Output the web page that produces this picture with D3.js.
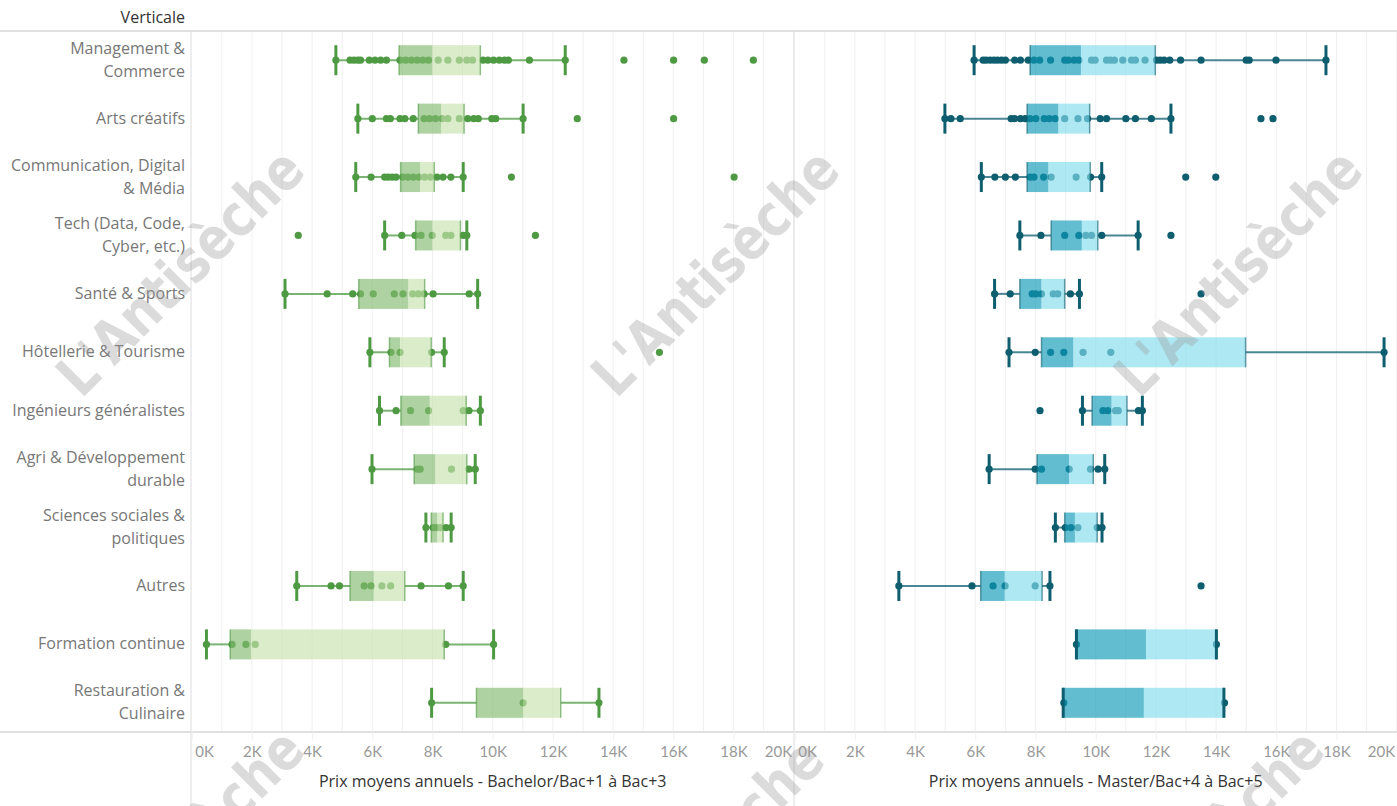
<!DOCTYPE html>
<html>
<head>
<meta charset="utf-8">
<script src="https://cdn.jsdelivr.net/npm/d3@7"></script>
<style>
    body { margin: 0; background: #fff; }
    svg { display: block; font-family: "Open Sans", Lato, sans-serif; }
</style>
</head>
<body>
<div id="chart"></div>
<script>
// categories (rows), with their label lines
const categories = [
    "Management & Commerce", "Arts créatifs", "Communication, Digital & Média",
    "Tech (Data, Code, Cyber, etc.)", "Santé & Sports", "Hôtellerie & Tourisme",
    "Ingénieurs généralistes", "Agri & Développement durable", "Sciences sociales & politiques",
    "Autres", "Formation continue", "Restauration & Culinaire"
];
const categoryLines = [
    ["Management &", "Commerce"], ["Arts créatifs"], ["Communication, Digital", "& Média"],
    ["Tech (Data, Code,", "Cyber, etc.)"], ["Santé & Sports"], ["Hôtellerie & Tourisme"],
    ["Ingénieurs généralistes"], ["Agri & Développement", "durable"], ["Sciences sociales &", "politiques"],
    ["Autres"], ["Formation continue"], ["Restauration &", "Culinaire"]
];

// box stats in K€ : [whisker low, Q1, median, Q3, whisker high]
const bachelorStats = [
    [4.79, 6.89, 8.00, 9.59, 12.41],
    [5.52, 7.53, 8.29, 9.05, 11.01],
    [5.45, 6.94, 7.59, 8.06, 9.02],
    [6.41, 7.44, 8.00, 8.93, 9.14],
    [3.10, 5.55, 7.20, 7.74, 9.50],
    [5.92, 6.57, 6.92, 7.96, 8.39],
    [6.24, 6.95, 7.91, 9.12, 9.59],
    [5.99, 7.39, 8.10, 9.14, 9.42],
    [7.78, 7.96, 8.16, 8.35, 8.62],
    [3.49, 5.26, 6.05, 7.08, 9.02],
    [0.49, 1.28, 1.97, 8.39, 10.03],
    [7.97, 9.46, 11.01, 12.26, 13.53]
];
const bachelorPoints = [
    [4.79, 5.26, 5.39, 5.52, 5.61, 5.90, 6.09, 6.28, 6.47, 6.92, 7.11, 7.30, 7.49, 7.68, 7.87, 8.19, 8.51, 8.89, 9.14, 9.33, 9.68, 9.84, 10.03, 10.22, 10.39, 10.52, 11.22, 12.41, 14.36, 16.01, 17.03, 18.66],
    [5.52, 6.00, 6.47, 6.60, 6.92, 7.08, 7.36, 7.72, 7.90, 8.10, 8.32, 8.51, 8.89, 9.17, 9.37, 9.52, 9.97, 10.10, 11.01, 12.81, 16.01],
    [5.45, 5.96, 6.41, 6.53, 6.66, 6.79, 7.01, 7.18, 7.36, 7.55, 7.74, 7.93, 8.15, 8.35, 8.61, 9.02, 10.62, 18.02],
    [3.54, 6.41, 6.98, 7.42, 7.62, 7.99, 8.44, 8.61, 9.02, 9.14, 11.42],
    [3.10, 4.50, 5.35, 5.61, 6.03, 6.73, 7.02, 7.34, 7.53, 7.72, 8.02, 9.22, 9.50],
    [5.92, 6.62, 6.92, 7.97, 8.39, 15.54],
    [6.24, 6.79, 7.27, 7.87, 9.02, 9.21, 9.59],
    [5.99, 7.49, 7.59, 8.63, 9.21, 9.42],
    [7.78, 8.02, 8.12, 8.25, 8.45, 8.62],
    [3.49, 4.63, 4.91, 5.73, 5.96, 6.32, 6.61, 7.62, 8.53, 9.02],
    [0.49, 1.34, 1.80, 2.11, 8.44, 10.03],
    [7.97, 11.01, 13.53]
];

const masterStats = [
    [5.96, 7.82, 9.51, 11.98, 17.65],
    [4.99, 7.72, 8.76, 9.80, 12.50],
    [6.20, 7.72, 8.43, 9.82, 10.20],
    [7.48, 8.52, 9.54, 10.07, 11.41],
    [6.64, 7.48, 8.20, 8.97, 9.46],
    [7.12, 8.20, 9.26, 14.98, 19.58],
    [9.56, 9.88, 10.53, 11.04, 11.55],
    [6.46, 8.05, 9.12, 9.92, 10.30],
    [8.66, 8.97, 9.31, 10.05, 10.21],
    [3.46, 6.18, 6.98, 8.22, 8.48],
    [9.36, 9.36, 11.67, 14.01, 14.01],
    [8.92, 8.92, 11.60, 14.26, 14.26]
];
const masterPoints = [
    [5.96, 6.26, 6.36, 6.49, 6.62, 6.74, 6.87, 7.00, 7.31, 7.50, 7.76, 7.95, 8.14, 8.50, 8.97, 9.09, 9.28, 9.44, 9.86, 9.98, 10.36, 10.49, 10.62, 10.90, 11.19, 11.32, 11.64, 12.02, 12.14, 12.27, 12.46, 12.82, 13.50, 15.00, 15.10, 15.99, 17.65],
    [4.99, 5.19, 5.50, 7.19, 7.31, 7.50, 7.66, 7.82, 8.01, 8.29, 8.46, 8.65, 8.97, 9.41, 9.73, 10.15, 10.36, 11.00, 11.32, 11.85, 12.50, 15.49, 15.89],
    [6.20, 6.65, 7.00, 7.33, 7.82, 7.95, 8.27, 8.52, 9.35, 9.83, 10.20, 12.99, 13.99],
    [7.48, 8.18, 8.97, 9.44, 9.67, 9.86, 10.20, 11.41, 12.50],
    [6.64, 7.16, 7.89, 8.01, 8.20, 8.59, 8.74, 9.16, 9.46, 13.50],
    [7.12, 7.99, 8.50, 8.94, 9.58, 10.50, 19.58],
    [8.15, 9.56, 10.24, 10.40, 10.66, 10.75, 11.42, 11.55],
    [6.46, 7.99, 8.20, 9.12, 9.83, 10.08, 10.30],
    [8.66, 8.99, 9.18, 9.41, 10.05, 10.21],
    [3.46, 5.89, 6.59, 6.99, 7.99, 8.48, 13.50],
    [9.36, 14.01],
    [8.94, 14.28]
];

const xTicks = [0, 2, 4, 6, 8, 10, 12, 14, 16, 18, 20];
const axisTitles = ["Prix moyens annuels - Bachelor/Bac+1 à Bac+3", "Prix moyens annuels - Master/Bac+4 à Bac+5"];
const watermarkText = "L'Antisèche";

const W = 1397, H = 806;
const plotTop = 31, plotBottom = 732;

const svg = d3.select("#chart").append("svg")
    .attr("width", W).attr("height", H);

const y = d3.scaleBand().domain(categories).range([plotTop, plotBottom]);
const half = 15;

const panels = [
    {
        x: d3.scaleLinear().domain([0, 20]).range([191.7, 793.7]),
        stats: bachelorStats, points: bachelorPoints,
        dot: "#4e9a43", low: "#83ba6f", high: "#c6e2ae", title: axisTitles[0]
    },
    {
        x: d3.scaleLinear().domain([0, 20]).range([794.7, 1396.7]),
        stats: masterStats, points: masterPoints,
        dot: "#0e5e6f", low: "#0f9ab7", high: "#83dced", title: axisTitles[1]
    }
];

// header
svg.append("text")
    .attr("x", 185).attr("y", 23)
    .attr("text-anchor", "end")
    .attr("fill", "#333").style("font-size", "16px")
    .text("Verticale");

// gridlines
panels.forEach(p => {
    svg.append("g").selectAll("line")
        .data(d3.range(1, 21))
        .join("line")
        .attr("x1", d => p.x(d)).attr("x2", d => p.x(d))
        .attr("y1", plotTop).attr("y2", plotBottom)
        .attr("stroke", "#f0f0f0").attr("stroke-width", 1);
});

// frame lines
svg.append("line").attr("x1", 0).attr("x2", W).attr("y1", plotTop).attr("y2", plotTop)
    .attr("stroke", "#e0e0e0").attr("stroke-width", 2);
svg.append("line").attr("x1", 0).attr("x2", W).attr("y1", plotBottom).attr("y2", plotBottom)
    .attr("stroke", "#e0e0e0").attr("stroke-width", 2);
[191, 794].forEach(xx => {
    svg.append("line").attr("x1", xx).attr("x2", xx).attr("y1", plotTop).attr("y2", H)
        .attr("stroke", "#dcdcdc").attr("stroke-width", 1);
});

// category labels
const labels = svg.append("g");
categories.forEach((c, i) => {
    const cy = y(c) + y.bandwidth() / 2;
    const lines = categoryLines[i];
    const t = labels.append("text")
        .attr("text-anchor", "end")
        .attr("fill", "#777").style("font-size", "16px");
    lines.forEach((l, j) => {
        t.append("tspan")
            .attr("x", 185)
            .attr("y", cy + 5 + (j - (lines.length - 1) / 2) * 23)
            .text(l);
    });
});

// boxes
panels.forEach(p => {
    const g = svg.append("g");
    categories.forEach((c, i) => {
        const cy = y(c) + y.bandwidth() / 2;
        const [lo, q1, med, q3, hi] = p.stats[i];
        const row = g.append("g");

        // whiskers
        row.selectAll("line.whisker")
            .data([[lo, q1], [q3, hi]])
            .join("line").attr("class", "whisker")
            .attr("x1", d => p.x(d[0])).attr("x2", d => p.x(d[1]))
            .attr("y1", cy).attr("y2", cy)
            .attr("stroke", p.dot).attr("stroke-opacity", 0.75).attr("stroke-width", 2);

        // points
        row.selectAll("circle")
            .data(p.points[i])
            .join("circle")
            .attr("cx", d => p.x(d)).attr("cy", cy).attr("r", 3.6)
            .attr("fill", p.dot);

        // box halves
        row.selectAll("rect")
            .data([[q1, med, p.low], [med, q3, p.high]])
            .join("rect")
            .attr("x", d => p.x(d[0]))
            .attr("width", d => p.x(d[1]) - p.x(d[0]))
            .attr("y", cy - half).attr("height", half * 2)
            .attr("fill", d => d[2]).attr("fill-opacity", 0.65);

        // box edges
        row.selectAll("line.edge")
            .data([q1, q3])
            .join("line").attr("class", "edge")
            .attr("x1", d => p.x(d)).attr("x2", d => p.x(d))
            .attr("y1", cy - half).attr("y2", cy + half)
            .attr("stroke", p.dot).attr("stroke-opacity", 0.6).attr("stroke-width", 1.5);

        // caps
        row.selectAll("line.cap")
            .data([lo, hi])
            .join("line").attr("class", "cap")
            .attr("x1", d => p.x(d)).attr("x2", d => p.x(d))
            .attr("y1", cy - half).attr("y2", cy + half)
            .attr("stroke", p.dot).attr("stroke-width", 3);
    });
});

// x axes
panels.forEach(p => {
    const axis = svg.append("g")
        .attr("transform", `translate(0,${plotBottom})`)
        .call(d3.axisBottom(p.x).tickValues(xTicks).tickSize(8).tickPadding(6).tickFormat(d => d + "K"));
    axis.select(".domain").remove();
    axis.selectAll(".tick line").attr("stroke", "#f0f0f0");
    axis.selectAll(".tick text")
        .attr("fill", "#999")
        .style("font-size", "15px")
        .style("font-family", "Lato, 'Open Sans', sans-serif")
        .attr("text-anchor", d => d === 0 ? "start" : d === 20 ? "end" : "middle")
        .attr("dx", d => d === 0 ? 3 : d === 20 ? -2 : 0);

    const [r0, r1] = p.x.range();
    svg.append("text")
        .attr("x", (r0 + r1) / 2).attr("y", 787)
        .attr("text-anchor", "middle")
        .attr("fill", "#333").style("font-size", "16px")
        .text(p.title);
});

// watermarks, partly outside the view like in the source
const marks = [[180, 272], [715, 272], [1238, 272], [180, 852], [700, 862], [1200, 852]];
svg.append("g").selectAll("text")
    .data(marks)
    .join("text")
    .attr("transform", d => `translate(${d[0]},${d[1]}) rotate(-45)`)
    .attr("text-anchor", "middle")
    .attr("dy", "0.35em")
    .attr("textLength", 320)
    .attr("lengthAdjust", "spacingAndGlyphs")
    .attr("fill", "#9a9a9a").attr("fill-opacity", 0.36)
    .style("font-family", "'Liberation Sans Narrow', 'DejaVu Sans Condensed', sans-serif")
    .style("font-weight", "bold")
    .style("font-size", "58px")
    .text(watermarkText);
</script>
</body>
</html>
